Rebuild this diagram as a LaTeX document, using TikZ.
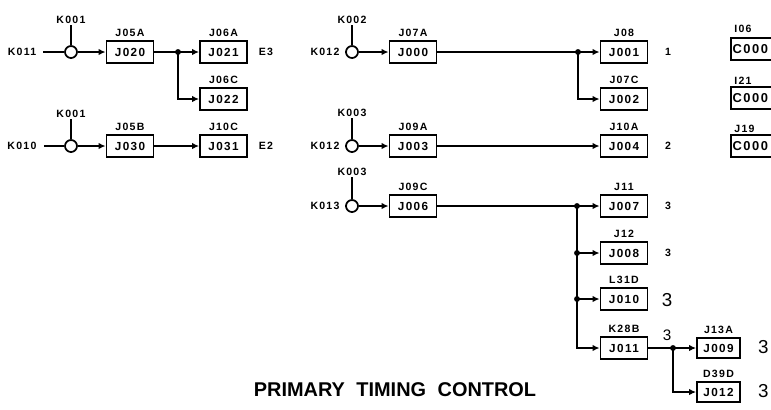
\documentclass[tikz,border=0pt]{standalone}
\usepackage{fontspec}
\setmainfont{Liberation Sans}
\newfontfamily\tagfont[LetterSpace=12]{Liberation Sans}
\usetikzlibrary{arrows.meta}
\tikzset{
  ublock/.style={draw, line width=1.5pt, minimum width=1.41cm, minimum height=0.68cm, inner sep=0pt,
    font=\tagfont\bfseries\fontsize{10}{10}\selectfont},
  tag/.style={font=\tagfont\bfseries\fontsize{9}{9}\selectfont, inner sep=1pt},
  hand/.style={font=\fontsize{16}{16}\selectfont, inner sep=0pt},
  gate/.style={circle, draw, fill=white, line width=1.5pt, minimum size=0.36cm, inner sep=0pt},
  wire/.style={line width=1.5pt},
  feed/.style={wire, -{Latex[length=6pt,width=5.5pt]}},
  tap/.style={circle, fill, inner sep=0pt, minimum size=5pt},
  over/.style={label={[tag,label distance=1.5pt]above:#1}},
}

\begin{document}
\begin{tikzpicture}[x=0.03cm, y=-0.03cm]
			%%%%% START %%%%%
			\useasboundingbox (0,0) rectangle (771,409);
			
			% K011 / K010
			\node[tag] (k011) at (22,52) {K011};
			\node[gate] (g1) at (71,52) {};
			\node[tag] (k001a) at (71,20) {K001};
			\node[ublock, over=J05A] (j020) at (130,52) {J020};
			\coordinate (s1) at (178,52);
			\node[ublock, over=J06A] (j021) at (223.5,52) {J021};
			\node[tag] (e3) at (266,52) {E3};
			\node[ublock, over=J06C] (j022) at (223.5,99) {J022};
			
			\node[tag] (k010) at (22,146) {K010};
			\node[gate] (g2) at (71,146) {};
			\node[tag] (k001b) at (71,114) {K001};
			\node[ublock, over=J05B] (j030) at (130,146) {J030};
			\node[ublock, over=J10C] (j031) at (223.5,146) {J031};
			\node[tag] (e2) at (266,146) {E2};
			
			\draw[wire] (k001a) -- (g1);
			\draw[wire, shorten <=5pt] (k011) -- (g1);
			\draw[feed] (g1) -- (j020);
			\draw[wire] (j020) -- (s1);
			\draw[feed] (s1) -- (j021);
			\draw[feed] (s1) |- (j022);
			\node[tap] at (s1) {};
			
			\draw[wire] (k001b) -- (g2);
			\draw[wire, shorten <=5pt] (k010) -- (g2);
			\draw[feed] (g2) -- (j030);
			\draw[feed] (j030) -- (j031);
			
			% K012 / K012 / K013
			\node[tag] (k012a) at (325,52) {K012};
			\node[gate] (g3) at (352,52) {};
			\node[tag] (k002) at (352,20) {K002};
			\node[ublock, over=J07A] (j000) at (413,52) {J000};
			\coordinate (s2) at (578,52);
			\node[ublock, over=J08] (j001) at (624,52) {J001};
			\node[tag] (n1) at (668,52) {1};
			\node[ublock, over=J07C] (j002) at (624,99) {J002};
			
			\node[tag] (k012b) at (325,146) {K012};
			\node[gate] (g4) at (352,146) {};
			\node[tag] (k003a) at (352,113) {K003};
			\node[ublock, over=J09A] (j003) at (413,146) {J003};
			\node[ublock, over=J10A] (j004) at (624,146) {J004};
			\node[tag] (n2) at (668,146) {2};
			
			\node[tag] (k013) at (325,206) {K013};
			\node[gate] (g5) at (352,206) {};
			\node[tag] (k003b) at (352,172) {K003};
			\node[ublock, over=J09C] (j006) at (413,206) {J006};
			\coordinate (s3) at (577,206);
			\node[ublock, over=J11] (j007) at (624,206) {J007};
			\node[tag] (n3a) at (668,206) {3};
			\coordinate (s4) at (577,253);
			\node[ublock, over=J12] (j008) at (624,253) {J008};
			\node[tag] (n3b) at (668,253) {3};
			\coordinate (s5) at (577,299);
			\node[ublock, over=L31D] (j010) at (624,299) {J010};
			\node[hand] (n3c) at (667,300) {3};
			\node[ublock, over=K28B] (j011) at (624,348) {J011};
			\node[hand, font=\fontsize{13}{13}\selectfont] (n3d) at (667,335) {3};
			\coordinate (s6) at (673,348);
			\node[ublock, minimum width=1.29cm, minimum height=0.6cm, over=J13A] (j009) at (718.5,348) {J009};
			\node[hand, anchor=west] (n3e) at (758,347) {3};
			\node[ublock, minimum width=1.29cm, minimum height=0.6cm, over=D39D] (j012) at (718.5,392) {J012};
			\node[hand, anchor=west] (n3f) at (758,391) {3};
			
			\draw[wire] (k002) -- (g3);
			\draw[wire, shorten <=5pt] (k012a) -- (g3);
			\draw[feed] (g3) -- (j000);
			\draw[wire] (j000) -- (s2);
			\draw[feed] (s2) -- (j001);
			\draw[feed] (s2) |- (j002);
			\node[tap] at (s2) {};
			
			\draw[wire] (k003a) -- (g4);
			\draw[wire, shorten <=5pt] (k012b) -- (g4);
			\draw[feed] (g4) -- (j003);
			\draw[feed] (j003) -- (j004);
			
			\draw[wire] (k003b) -- (g5);
			\draw[wire, shorten <=5pt] (k013) -- (g5);
			\draw[feed] (g5) -- (j006);
			\draw[wire] (j006) -- (s3);
			\draw[feed] (s3) -- (j007);
			\draw[feed] (s4) -- (j008);
			\draw[feed] (s5) -- (j010);
			\draw[feed] (s3) |- (j011);
			\node[tap] at (s3) {};
			\node[tap] at (s4) {};
			\node[tap] at (s5) {};
			\draw[wire] (j011) -- (s6);
			\draw[feed] (s6) -- (j009);
			\draw[feed] (s6) |- (j012);
			\node[tap] at (s6) {};
			
			% right column, cut by the edge
			\node[tag, anchor=west] (i06) at (733,29) {I06};
			\node[ublock, anchor=west, minimum width=1.8cm, text width=1.7cm, align=left, font=\tagfont\bfseries\fontsize{11}{11}\selectfont] (c1) at (730,49) {C000};
			\node[tag, anchor=west] (i21) at (733,81) {I21};
			\node[ublock, anchor=west, minimum width=1.8cm, text width=1.7cm, align=left, font=\tagfont\bfseries\fontsize{11}{11}\selectfont] (c2) at (730,98) {C000};
			\node[tag, anchor=west] (j19) at (733,129) {J19};
			\node[ublock, anchor=west, minimum width=1.8cm, text width=1.7cm, align=left, font=\tagfont\bfseries\fontsize{11}{11}\selectfont] (c3) at (730,146) {C000};
			
			\node[font=\bfseries\fontsize{17}{17}\selectfont] (title) at (395,390) {PRIMARY\hspace{0.3em} TIMING\hspace{0.3em} CONTROL};
			%%%%% END %%%%%
		\end{tikzpicture}
\end{document}
